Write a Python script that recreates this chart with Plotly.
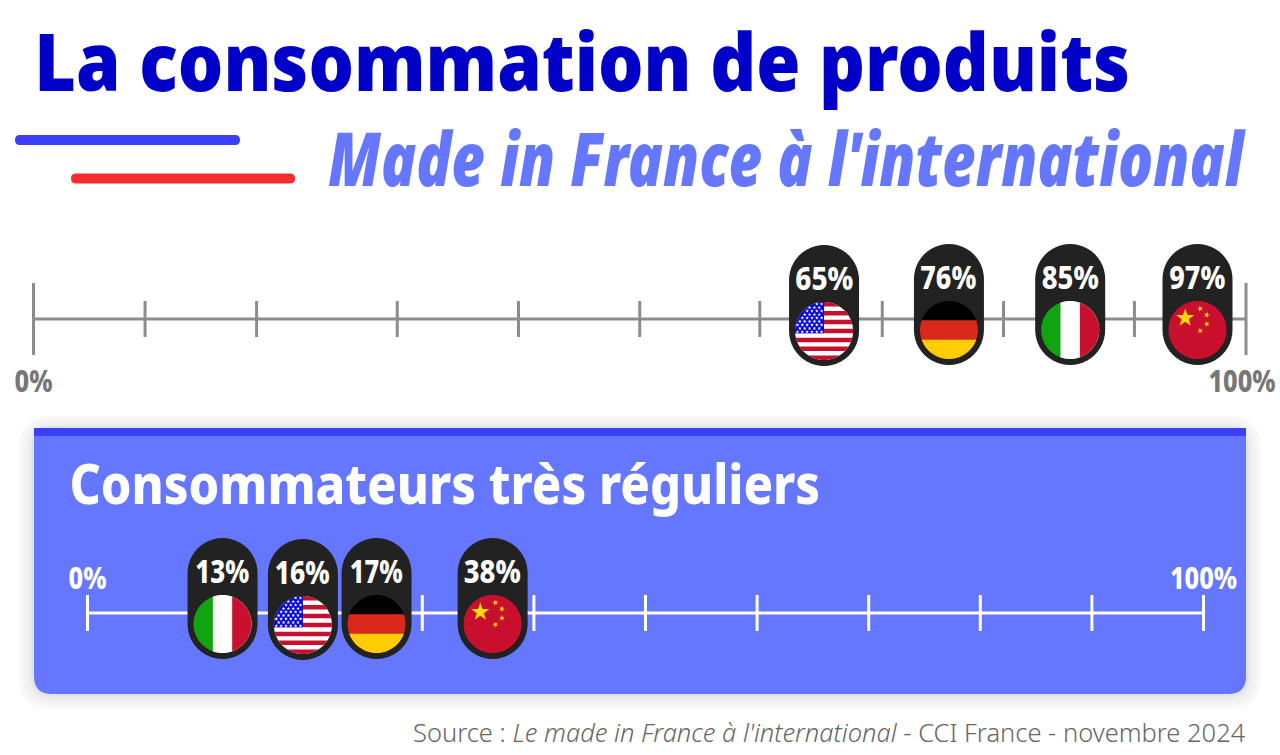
import json
import math
import plotly.graph_objects as go

W, H = 1280, 755

# ---- data ----
top_countries = ["USA", "Allemagne", "Italie", "Chine"]
top_values = [65, 76, 85, 97]
# Where each badge actually sits on the 0-100 axis in the picture (badges are nudged from their value)
top_badge_pos = [65.2, 75.5, 85.5, 96.0]
top_ticks = [0, 9.2, 18.4, 30, 40, 50, 59.9, 70, 80, 90.8, 100]

low_countries = ["Italie", "USA", "Allemagne", "Chine"]
low_values = [13, 16, 17, 38]
low_badge_pos = [12.1, 19.3, 25.9, 36.3]
low_ticks = [0, 10, 20, 30, 40, 50, 60, 70, 80, 90, 100]

title_text = "La consommation de produits"
subtitle_text = "Made in France à l'international"
panel_text = "Consommateurs très réguliers"
source_text = "Source : <i>Le made in France à l'international</i> - CCI France - novembre 2024"

# ---- styles ----
BODY = "Noto Sans"
BLUE_D, BLUE_M, BLUE_L, RED = "#0000C8", "#3B3FF5", "#6677FF", "#F52D2D"
PILL = "#222222"
FR, FW = "#C8102E", "#FFFFFF"

# Rendered widths of the condensed display type in the picture (px)
fit_widths = {
    title_text: 1096, subtitle_text: 918, panel_text: 751,
    "65%": 58, "76%": 56, "85%": 57, "97%": 56,
    "13%": 54, "16%": 55, "17%": 53, "38%": 57,
    "0%": 38, "100%": 67,
}


def px(x):
    return x / W


def py(y):
    return 1 - y / H


def rrect(x0, y0, x1, y1, r, square_top=False):
    rt = 0 if square_top else r
    pts = [
        f"M{px(x0 + rt)},{py(y0)}", f"L{px(x1 - rt)},{py(y0)}",
        f"Q{px(x1)},{py(y0)} {px(x1)},{py(y0 + rt)}", f"L{px(x1)},{py(y1 - r)}",
        f"Q{px(x1)},{py(y1)} {px(x1 - r)},{py(y1)}", f"L{px(x0 + r)},{py(y1)}",
        f"Q{px(x0)},{py(y1)} {px(x0)},{py(y1 - r)}", f"L{px(x0)},{py(y0 + rt)}",
        f"Q{px(x0)},{py(y0)} {px(x0 + rt)},{py(y0)}", "Z",
    ]
    return "".join(pts)


def paper_shape(path, color, layer="below"):
    return dict(type="path", xref="paper", yref="paper", path=path,
                fillcolor=color, line=dict(width=0), layer=layer)


def circle_poly(cy, r, n=96):
    return [(r * math.cos(2 * math.pi * i / n), cy + r * math.sin(2 * math.pi * i / n)) for i in range(n)]


def clip(poly, axis, limit, keep_greater):
    out = []
    for i, a in enumerate(poly):
        b = poly[(i + 1) % len(poly)]
        ina = (a[axis] >= limit) == keep_greater
        inb = (b[axis] >= limit) == keep_greater
        if ina:
            out.append(a)
        if ina != inb:
            t = (limit - a[axis]) / (b[axis] - a[axis])
            out.append((a[0] + t * (b[0] - a[0]), a[1] + t * (b[1] - a[1])))
    return out


def to_path(poly):
    return "M" + "L".join(f"{x:.2f},{y:.2f}" for x, y in poly) + "Z"


def star(cx, cy, r, rot=90):
    pts = []
    for i in range(10):
        rr = r if i % 2 == 0 else r * 0.4
        a = math.radians(rot + 36 * i)
        pts.append((cx + rr * math.cos(a), cy + rr * math.sin(a)))
    return pts


R = 29
CY = -11


def flag_layers(country):
    base = circle_poly(CY, R)
    top = CY + R
    layers = []
    if country == "Italie":
        layers.append(("#10A510", to_path(base)))
        layers.append((FW, to_path(clip(base, 0, -R / 3, True))))
        layers.append((FR, to_path(clip(base, 0, R / 3, True))))
    elif country == "Allemagne":
        layers.append(("#000000", to_path(base)))
        layers.append(("#DA291C", to_path(clip(base, 1, top - R * 2 / 3, False))))
        layers.append(("#FFCD00", to_path(clip(base, 1, top - R * 4 / 3, False))))
    elif country == "Chine":
        layers.append((FR, to_path(base)))
        s = [star(-12.3, CY + 12, 9.5)]
        for dx, dy, rot in [(2.7, 21.3, 110), (9.3, 15, 70), (9.3, 6, 100), (2.7, -0.7, 120)]:
            s.append(star(dx, CY + dy, 3.1, rot))
        layers.append(("#FFD800", "".join(to_path(p) for p in s)))
    else:
        layers.append((FW, to_path(base)))
        sh = 2 * R / 13
        reds = []
        for k in range(0, 13, 2):
            p = clip(clip(base, 1, top - k * sh, False), 1, top - (k + 1) * sh, True)
            if len(p) > 2:
                reds.append(to_path(p))
        layers.append((FR, "".join(reds)))
        cant_b = top - 7 * sh
        cant = clip(clip(base, 0, 0, False), 1, cant_b, True)
        layers.append(("#0A0AD2", to_path(cant)))
        stars = []
        rows = 9
        for row in range(rows):
            y = top - (row + 0.6) * (7 * sh) / rows
            n = 6 if row % 2 == 0 else 5
            for c in range(n):
                x = -R + (c + (0.5 if row % 2 == 0 else 1.0)) * R / 6
                if math.hypot(x, y - CY) < R - 1:
                    stars.append(to_path(star(x, y, 1.9)))
        layers.append((FW, "".join(stars)))
    return layers


def pill_path():
    r, t, b = 35, 75, -46
    n = 24
    pts = []
    for i in range(n + 1):
        a = math.pi * i / n
        pts.append((r * math.cos(a), t - r + r * math.sin(a)))
    for i in range(n + 1):
        a = math.pi + math.pi * i / n
        pts.append((r * math.cos(a), b + r + r * math.sin(a)))
    return to_path(pts)


shapes = []
# deco rules
shapes.append(paper_shape(rrect(15, 135, 240, 145, 5), BLUE_M))
shapes.append(paper_shape(rrect(71, 173.5, 295, 183.5, 5), RED))
# panel shadow
for e, c in [(15, "#F8F8F8"), (11, "#F4F4F4"), (7, "#EFEFEF"), (4, "#E9E9E9"), (2, "#E2E2E2")]:
    shapes.append(paper_shape(rrect(34 - e, 428 - e * 0.8, 1246 + e, 694 + e, 18 + e), c))
shapes.append(paper_shape(rrect(34, 428, 1246, 694, 18, square_top=True), BLUE_L))
shapes.append(paper_shape(rrect(34, 428, 1246, 436, 0.01, square_top=True), BLUE_M))


def badge(xref, yref, pos, country, dy):
    out = []

    def sh(path, color):
        out.append(dict(type="path", xref=xref, yref=yref, xsizemode="pixel", ysizemode="pixel",
                        xanchor=pos, yanchor=dy, path=path, fillcolor=color,
                        line=dict(width=0), layer="above"))

    sh(pill_path(), PILL)
    for color, path in flag_layers(country):
        sh(path, color)
    return out


annotations = []


def add_badges(xref, yref, countries, values, positions):
    for c, v, p in zip(countries, values, positions):
        dy = -1 if c == "USA" else 0
        shapes.extend(badge(xref, yref, p, c, dy))
        annotations.append(dict(xref=xref, yref=yref, x=p, y=43 + dy, text=f"{v}%", showarrow=False,
                                xanchor="center", yanchor="middle",
                                font=dict(family=BODY, size=32, color="#FFFFFF", weight=800)))


add_badges("x", "y", top_countries, top_values, top_badge_pos)
add_badges("x2", "y2", low_countries, low_values, low_badge_pos)


def text(x, y, s, size, color, family=BODY, weight=700, anchor="center", style="normal"):
    annotations.append(dict(xref="paper", yref="paper", x=px(x), y=py(y), text=s, showarrow=False,
                            xanchor=anchor, yanchor="middle",
                            font=dict(family=family, size=size, color=color, weight=weight, style=style),
                            borderpad=0, borderwidth=0))


text(582, 60, title_text, 80, BLUE_D, weight=900)
text(787, 157, subtitle_text, 74, BLUE_L, weight=900, style="italic")
text(444.5, 482, panel_text, 56, "#FFFFFF", weight=800)
text(1246, 732, source_text, 25.5, "#666666", family="Noto Sans", weight=300, anchor="right")

fig = go.Figure()


def axis_traces(xa, ya, ticks, color, half):
    fig.add_trace(go.Scatter(x=[0, 100], y=[0, 0], xaxis=xa, yaxis=ya, mode="lines",
                             line=dict(color=color, width=3), hoverinfo="skip", showlegend=False))
    fig.add_trace(go.Scatter(x=ticks, y=[0] * len(ticks), xaxis=xa, yaxis=ya, mode="markers",
                             marker=dict(size=1, color=color),
                             error_y=dict(type="data", symmetric=True, array=half, color=color,
                                          thickness=3, width=0),
                             hoverinfo="skip", showlegend=False, cliponaxis=False))


axis_traces("x", "y", top_ticks, "#8C8C8C", [36 if t in (0, 100) else 18 for t in top_ticks])
axis_traces("x2", "y2", low_ticks, "#FFFFFF", [18] * len(low_ticks))

common_y = dict(visible=False, fixedrange=True)
PAD = 2  # axis units kept free past 0 and 100 so that the end ticks are not clipped


def xax(left, right, pos, side, color):
    unit = (right - left) / 100
    return dict(domain=[px(left - PAD * unit), px(right + PAD * unit)], range=[-PAD, 100 + PAD],
                anchor="free", position=py(pos), side=side,
                tickmode="array", tickvals=[0, 100], ticktext=["0%", "100%"], ticklen=0,
                showgrid=False, zeroline=False, showline=False, fixedrange=True, automargin=False,
                ticklabeloverflow="allow",
                tickfont=dict(family=BODY, size=30, color=color, weight=800))


fig.update_layout(
    width=W, height=H, margin=dict(l=0, r=0, t=0, b=0, autoexpand=False), autosize=False,
    paper_bgcolor="#FFFFFF", plot_bgcolor="rgba(0,0,0,0)", showlegend=False,
    xaxis=xax(33.5, 1246, 361, "bottom", "#777777"),
    yaxis=dict(domain=[py(375), py(235)], range=[-56, 84], **common_y),
    xaxis2=xax(87.5, 1203.5, 595, "top", "#FFFFFF"),
    yaxis2=dict(domain=[py(665), py(530)], range=[-52, 83], **common_y),
    shapes=shapes, annotations=annotations,
)

# Fit the display type to the condensed widths of the original (the text stays real text)
fit_js = """
document.body.style.margin='0';document.body.style.overflow='hidden';
var FIT=%s;
document.querySelectorAll('.annotation-text, .xtick text, .x2tick text').forEach(function(t){
  var w=FIT[t.textContent];
  if(!w){return;}
  var b=t.getBBox(), c=b.x+b.width/2, s=w/b.width, old=t.getAttribute('transform')||'';
  var dx=(t.parentNode.classList.contains('xtick') && t.textContent==='100%%') ? -4 : 0;
  t.setAttribute('transform',old+' translate('+(c+dx)+',0) scale('+s+',1) translate('+(-c)+',0)');
});
""" % json.dumps(fit_widths)

fig.write_html("out.html", post_script=fit_js, config={"displayModeBar": False})
